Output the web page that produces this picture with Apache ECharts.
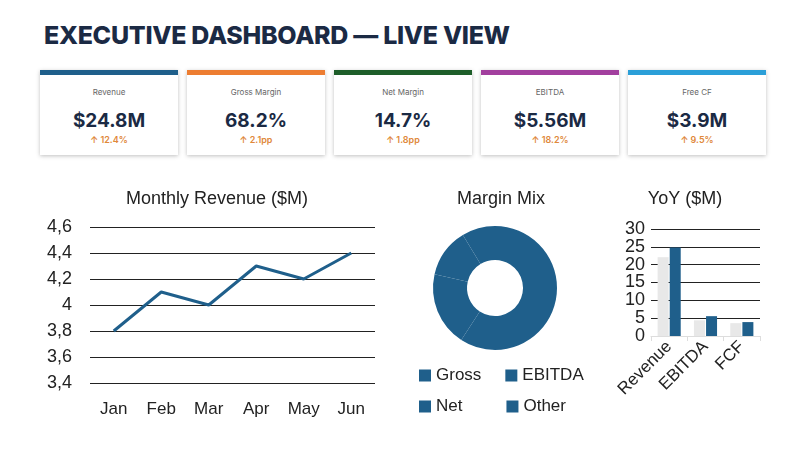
<!DOCTYPE html>
<html><head><meta charset="utf-8">
<script src="https://cdn.jsdelivr.net/npm/echarts@6/dist/echarts.min.js"></script>
<style>
body{margin:0;width:800px;height:450px;background:#fff;font-family:Inter,"Noto Sans",sans-serif;overflow:hidden;position:relative}
h1{position:absolute;left:44px;top:20px;margin:0;font-size:25px;font-weight:800;color:#1b2a44;letter-spacing:-0.3px}
.card{position:absolute;top:70px;width:138px;height:85px;background:#fff;box-shadow:0 1px 4px rgba(0,0,0,.25);text-align:center}
.card .bar{height:5px}
.card .lab{font-size:8px;color:#666;margin-top:12px}
.card .val{font-size:19px;font-weight:700;color:#1b2a44;margin-top:12px}
.card .chg{font-size:9px;color:#e0883a;margin-top:2px;font-weight:600}
#chart{position:absolute;left:0;top:175px;width:800px;height:275px}
</style></head><body>
<h1>EXECUTIVE DASHBOARD — LIVE VIEW</h1>
<div id="cards"></div>
<div id="chart"></div>
<script>
var kpiLabels = ['Revenue','Gross Margin','Net Margin','EBITDA','Free CF'];
var kpiValues = ['$24.8M','68.2%','14.7%','$5.56M','$3.9M'];
var kpiChanges = ['↑ 12.4%','↑ 2.1pp','↑ 1.8pp','↑ 18.2%','↑ 9.5%'];
var kpiColors = ['#1f5f8b','#ed7d31','#1e5e2a','#a23f9e','#2b9fd8'];

var months = ['Jan','Feb','Mar','Apr','May','Jun'];
var revenue = [3.8,4.1,4.0,4.3,4.2,4.4];

var mixNames = ['Gross','EBITDA','Net','Other'];
var mixValues = [68.2,22.4,14.7,10];

var yoyCats = ['Revenue','EBITDA','FCF'];
var yoyPrior = [22.1,4.4,3.6];
var yoyCurrent = [24.8,5.56,3.9];

var html='';
for(var i=0;i<5;i++){
  html+='<div class="card" style="left:'+(40+i*147)+'px"><div class="bar" style="background:'+kpiColors[i]+'"></div>'+
    '<div class="lab">'+kpiLabels[i]+'</div><div class="val">'+kpiValues[i]+'</div><div class="chg">'+kpiChanges[i]+'</div></div>';
}
document.getElementById('cards').innerHTML=html;

var blue='#1f5f8b';
var font='Liberation Sans';
var titleStyle={fontSize:18,fontWeight:'normal',color:'#222',fontFamily:font};
var legendBase={itemGap:24,itemWidth:12,itemHeight:12,icon:'rect',textStyle:{fontSize:17,color:'#222',fontFamily:font}};
var chart=echarts.init(document.getElementById('chart'));
chart.setOption({
  textStyle:{fontFamily:font},
  title:[
    {text:'Monthly Revenue ($M)',left:212,top:10,textAlign:'center',textStyle:titleStyle},
    {text:'Margin Mix',left:496,top:10,textAlign:'center',textStyle:titleStyle},
    {text:'YoY ($M)',left:680,top:10,textAlign:'center',textStyle:titleStyle}
  ],
  legend:[
    Object.assign({data:['Gross','EBITDA'],left:414,top:187},legendBase),
    Object.assign({data:['Net','Other'],left:414,top:218},legendBase,{itemGap:44})
  ],
  grid:[
    {left:90,top:52,width:285,height:156},
    {left:651,top:54,width:109,height:107}
  ],
  xAxis:[
    {gridIndex:0,type:'category',data:months,boundaryGap:true,axisLine:{show:false},axisTick:{show:false},
      axisLabel:{fontSize:17,color:'#222',margin:18}},
    {gridIndex:1,type:'category',data:yoyCats,axisLine:{lineStyle:{color:'#ddd'}},axisTick:{show:true,lineStyle:{color:'#ddd'}},
      axisLabel:{fontSize:17,color:'#222',rotate:45,margin:8,interval:0}}
  ],
  yAxis:[
    {gridIndex:0,type:'value',min:3.4,max:4.6,interval:0.2,axisLabel:{fontSize:18,color:'#222',margin:18,
      formatter:function(v){return String(+v.toFixed(1)).replace('.',',');}},
      splitLine:{lineStyle:{color:'#222'}}},
    {gridIndex:1,type:'value',min:0,max:30,interval:5,axisLabel:{fontSize:18,color:'#222',margin:6},
      splitLine:{lineStyle:{color:'#222'}}}
  ],
  color:[blue,blue,blue,blue],
  series:[
    {type:'line',xAxisIndex:0,yAxisIndex:0,data:revenue,symbol:'none',lineStyle:{color:blue,width:3}},
    {type:'pie',radius:[28,62],center:[495,113],data:mixNames.map(function(n,i){return {name:n,value:mixValues[i]};}),
      label:{show:false},itemStyle:{color:blue,borderWidth:0},emphasis:{disabled:true},silent:true},
    {type:'bar',xAxisIndex:1,yAxisIndex:1,data:yoyPrior,barWidth:11,barGap:'10%',itemStyle:{color:'#e8e8e8'}},
    {type:'bar',xAxisIndex:1,yAxisIndex:1,data:yoyCurrent,barWidth:11,itemStyle:{color:blue}}
  ]
});
</script></body></html>
